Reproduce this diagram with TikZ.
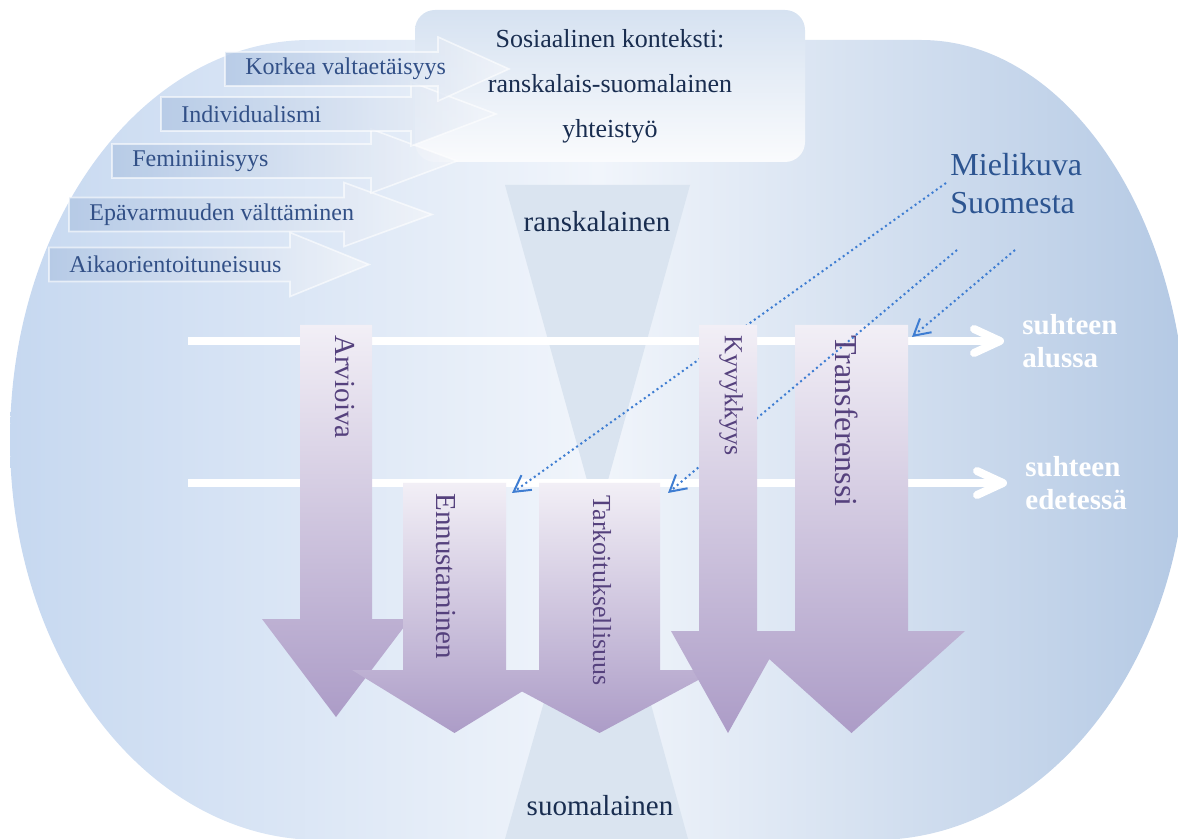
\documentclass[tikz,border=0pt]{standalone}
\usepackage{fontspec}
\setmainfont{Liberation Serif}
\usetikzlibrary{arrows.meta,positioning}

\definecolor{blobleft}{RGB}{198,216,240}
\definecolor{blobmid}{RGB}{241,245,251}
\definecolor{blobright}{RGB}{180,201,228}
\definecolor{hourglass}{RGB}{218,228,240}
\definecolor{boxtop}{RGB}{214,226,241}
\definecolor{boxbottom}{RGB}{250,251,253}
\definecolor{dimleft}{RGB}{178,199,228}
\definecolor{dimright}{RGB}{242,245,250}
\definecolor{dimtext}{RGB}{50,80,135}
\definecolor{navytext}{RGB}{25,45,80}
\definecolor{lilatop}{RGB}{242,239,246}
\definecolor{lilabottom}{RGB}{172,156,199}
\definecolor{lilatext}{RGB}{85,65,125}
\definecolor{mielidots}{RGB}{62,125,210}
\definecolor{mielitext}{RGB}{45,85,145}

% downward block arrow: x1, x2, top, base, head left, head right, tip x, tip y
\newcommand{\nuoli}[8]{%
	\path[process] (#1,#3) -- (#2,#3) -- (#2,#4) -- (#6,#4) -- (#7,#8) -- (#5,#4) -- (#1,#4) -- cycle;}

\begin{document}
\begin{tikzpicture}
	[x=0.5pt,y=-0.5pt,
	culture/.style={left color=dimleft,right color=dimright,fill opacity=0.8,draw=white,draw opacity=0.6,line width=0.8pt},
	culturelabel/.style={anchor=west,inner sep=0pt,text=dimtext,font=\fontsize{12}{14}\selectfont},
	ctxbox/.style={rounded corners=10pt,top color=boxtop,bottom color=boxbottom,minimum width=195pt,minimum height=76pt,
		inner sep=0pt,align=center,text=navytext,font=\fontsize{13}{22.5}\selectfont},
	side/.style={inner sep=0pt,text=navytext,font=\fontsize{14.5}{16}\selectfont},
	process/.style={top color=lilatop,bottom color=lilabottom},
	processlabel/.style={anchor=west,inner sep=0pt,rotate=-90,text=lilatext},
	phase/.style={draw=white,line width=4pt,-{Straight Barb[length=13pt,width=12pt,round]}},
	phaselabel/.style={inner sep=0pt,align=left,text=white,font=\fontsize{14.5}{16.5}\selectfont\bfseries},
	mieli/.style={draw=mielidots,line width=1pt,dash pattern=on 1pt off 1.6pt,-{Straight Barb[length=8pt,width=9pt]}},
	mielilabel/.style={anchor=west,inner sep=0pt,align=left,text=mielitext,font=\fontsize{16}{19}\selectfont}]
	\useasboundingbox (0,0) rectangle (1178,839);
	% background
	\path[left color=blobleft,right color=blobright,middle color=blobmid]
		(310,40) -- (921,40) arc[start angle=-90,end angle=0,x radius=266,y radius=400]
		arc[start angle=0,end angle=90,x radius=312,y radius=400]
		-- (320,840) arc[start angle=90,end angle=180,x radius=310,y radius=400]
		arc[start angle=180,end angle=270,x radius=300,y radius=400] -- cycle;
	\fill[hourglass] (505,185) -- (690,185) -- (597.5,518) -- cycle;
	\fill[hourglass] (505,839) -- (688,839) -- (598,512) -- cycle;
	\node[side] (ranska) at (597,222) {ranskalainen};
	\node[side] (suomi) at (600,806) {suomalainen};
	% context
	\node[ctxbox] (konteksti) at (610,86) {Sosiaalinen konteksti:\\ranskalais-suomalainen\\yhteistyö};
	\foreach \xs/\yc/\xb/\xt/\lab [count=\i] in
		{49/264.5/290/369/Aikaorientoituneisuus,
		69/214.5/344/432/Epävarmuuden välttäminen,
		112/161/371/457/Feminiinisyys,
		161/114/411/496/Individualismi,
		225/69/438/509/Korkea valtaetäisyys}
	{
		\path[culture] (\xs,\yc-17) -- (\xb,\yc-17) -- (\xb,\yc-32) -- (\xt,\yc)
			-- (\xb,\yc+32) -- (\xb,\yc+17) -- (\xs,\yc+17) -- cycle;
		\node[culturelabel] (dim-\i) at (\xs+20,\yc) {\lab};
	}
	% phases
	\coordinate (alku-s) at (188,341);
	\coordinate (alku-e) at (1004,341);
	\coordinate (jatko-s) at (188,483);
	\coordinate (jatko-e) at (1007,483);
	\draw[phase] (alku-s) -- (alku-e);
	\draw[phase] (jatko-s) -- (jatko-e);
	\node[phaselabel,right=9pt of alku-e] (alku) {suhteen\\alussa};
	\node[phaselabel,right=9pt of jatko-e] (jatko) {suhteen\\edetessä};
	% process arrows
	\nuoli{300}{372}{325}{619}{262}{410}{336}{717}
	\nuoli{403}{506}{483}{670}{352}{557}{454.5}{733}
	\nuoli{539}{660}{483}{670}{482}{717}{599.5}{733}
	\nuoli{795}{908}{325}{631}{738}{965}{851.5}{733}
	% image of Finland
	\node[mielilabel] (mielikuva) at (950,184) {Mielikuva\\Suomesta};
	\coordinate (m1) at (946,183);
	\coordinate (m2) at (957,250);
	\coordinate (m3) at (1015,250);
	\coordinate (t1) at (512,493);
	\coordinate (t2) at (668,493);
	\coordinate (t3) at (912,337);
	\draw[mieli] (m1) -- (t1);
	\draw[mieli] (m2) -- (t2);
	\draw[mieli] (m3) -- (t3);
	\nuoli{699}{757}{325}{631}{671}{785}{728}{733}
	\node[processlabel,font=\fontsize{14.5}{16}\selectfont] (arvioiva) at (345,335) {Arvioiva};
	\node[processlabel,font=\fontsize{14.5}{16}\selectfont] (ennustaminen) at (446,493) {Ennustaminen};
	\node[processlabel,font=\fontsize{13}{15}\selectfont] (tarkoitus) at (602,495) {Tarkoituksellisuus};
	\node[processlabel,font=\fontsize{13}{15}\selectfont] (kyvykkyys) at (731,335) {Kyvykkyys};
	\node[processlabel,font=\fontsize{16}{18}\selectfont] (transferenssi) at (847,335) {Transferenssi};
\end{tikzpicture}
\end{document}
